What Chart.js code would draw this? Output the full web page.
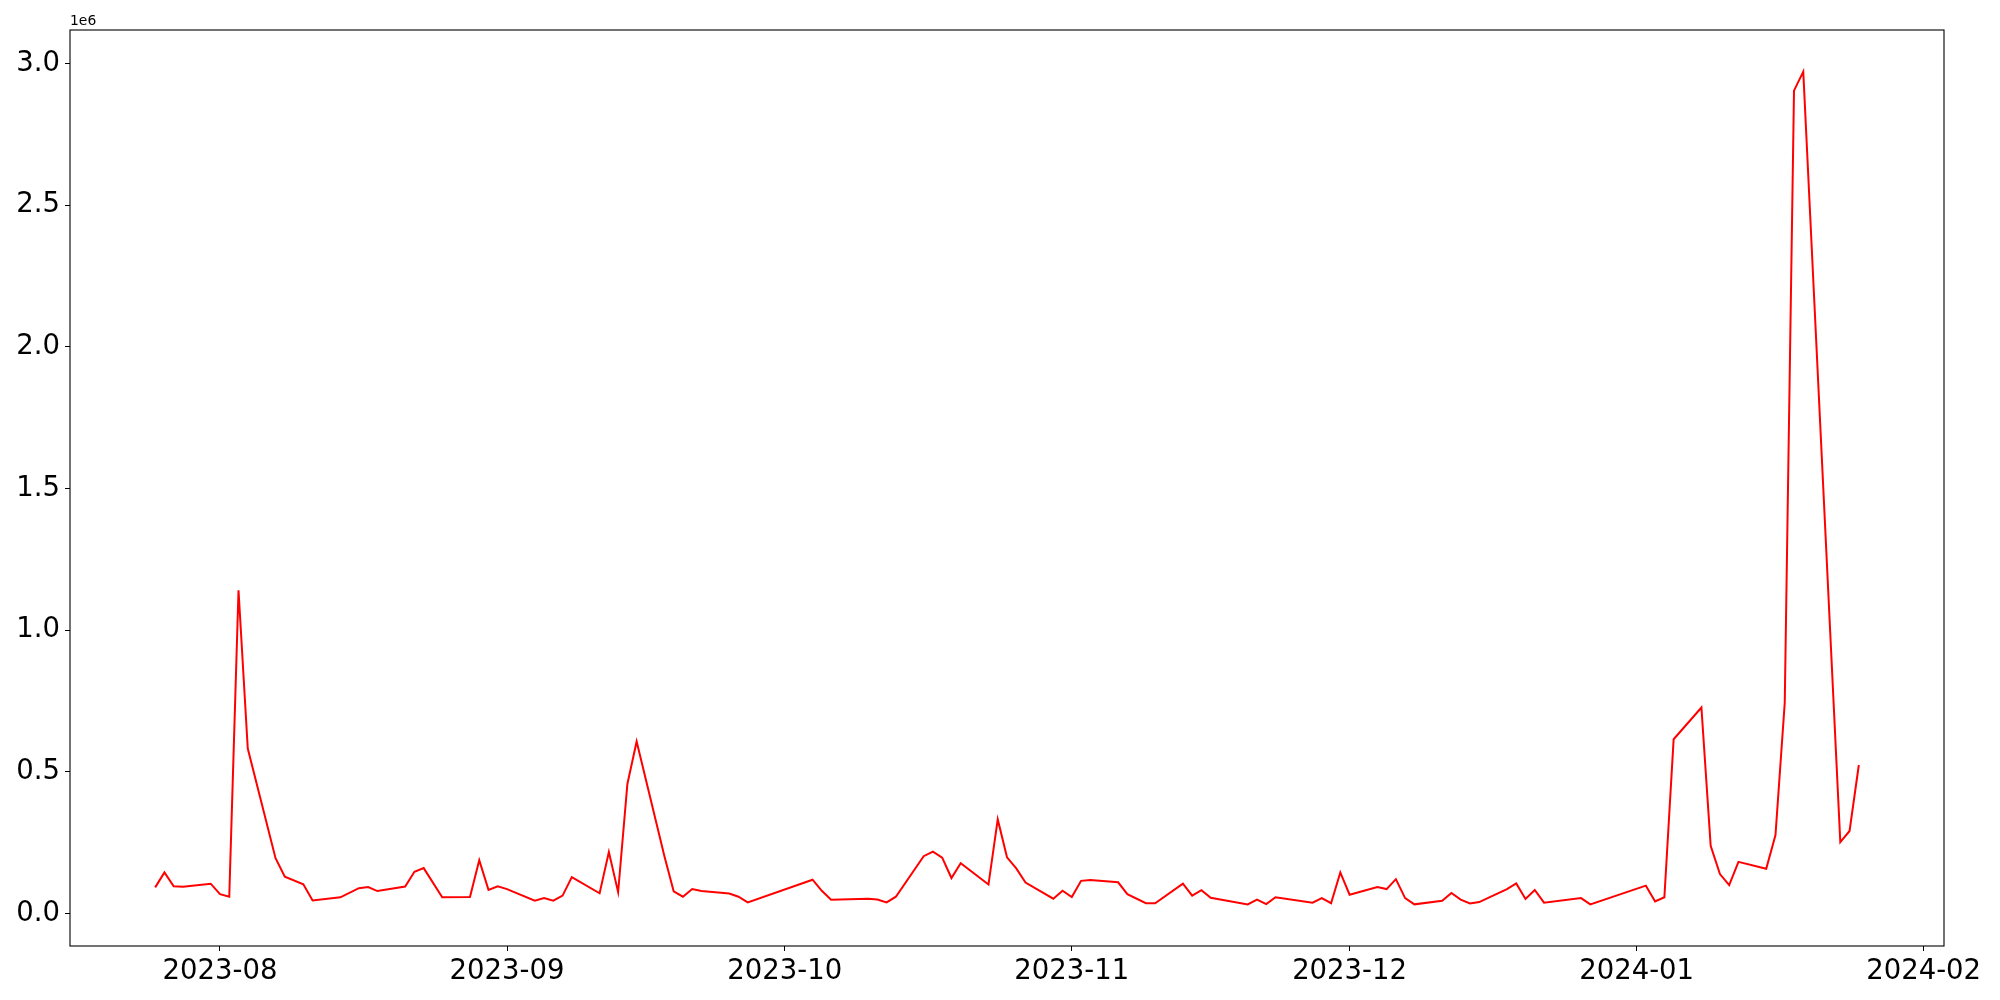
<!DOCTYPE html>
<html>
<head>
<meta charset="utf-8">
<script src="https://cdn.jsdelivr.net/npm/chart.js@4.4.1/dist/chart.umd.min.js"></script>
<style>
  html, body { margin: 0; padding: 0; background: #fff; }
  #wrap { width: 2000px; height: 1000px; }
</style>
</head>
<body>
<div id="wrap"><canvas id="myChart" width="2000" height="1000"></canvas></div>
<script>
'use strict';

// trading dates and values (values in units, axis shows 1e6)
var dates = [
  '2023-07-25', '2023-07-26', '2023-07-27', '2023-07-28', '2023-07-31',
  '2023-08-01', '2023-08-02', '2023-08-03', '2023-08-04', '2023-08-07',
  '2023-08-08', '2023-08-10', '2023-08-11', '2023-08-14', '2023-08-16',
  '2023-08-17', '2023-08-18', '2023-08-21', '2023-08-22', '2023-08-23',
  '2023-08-25', '2023-08-28', '2023-08-29', '2023-08-30', '2023-08-31',
  '2023-09-01', '2023-09-04', '2023-09-05', '2023-09-06', '2023-09-07',
  '2023-09-08', '2023-09-11', '2023-09-12', '2023-09-13', '2023-09-14',
  '2023-09-15', '2023-09-18', '2023-09-19', '2023-09-20', '2023-09-21',
  '2023-09-22', '2023-09-25', '2023-09-26', '2023-09-27', '2023-10-04',
  '2023-10-05', '2023-10-06', '2023-10-10', '2023-10-11', '2023-10-12',
  '2023-10-13', '2023-10-16', '2023-10-17', '2023-10-18', '2023-10-19',
  '2023-10-20', '2023-10-23', '2023-10-24', '2023-10-25', '2023-10-26',
  '2023-10-27', '2023-10-30', '2023-10-31', '2023-11-01', '2023-11-02',
  '2023-11-03', '2023-11-06', '2023-11-07', '2023-11-09', '2023-11-10',
  '2023-11-13', '2023-11-14', '2023-11-15', '2023-11-16', '2023-11-20',
  '2023-11-21', '2023-11-22', '2023-11-23', '2023-11-27', '2023-11-28',
  '2023-11-29', '2023-11-30', '2023-12-01', '2023-12-04', '2023-12-05',
  '2023-12-06', '2023-12-07', '2023-12-08', '2023-12-11', '2023-12-12',
  '2023-12-13', '2023-12-14', '2023-12-15', '2023-12-18', '2023-12-19',
  '2023-12-20', '2023-12-21', '2023-12-22', '2023-12-26', '2023-12-27',
  '2024-01-02', '2024-01-03', '2024-01-04', '2024-01-05', '2024-01-08',
  '2024-01-09', '2024-01-10', '2024-01-11', '2024-01-12', '2024-01-15',
  '2024-01-16', '2024-01-17', '2024-01-18', '2024-01-19', '2024-01-23',
  '2024-01-24', '2024-01-25'
];

var volumes = [
  92000, 145000, 96000, 94000, 105000,
  68000, 59000, 1141000, 582000, 195000,
  130000, 103000, 46000, 57000, 89000,
  93000, 79000, 95000, 147000, 160000,
  57000, 58000, 188000, 83000, 96000,
  86000, 45000, 54000, 45000, 63000,
  128000, 71000, 217000, 75000, 457000,
  607000, 202000, 78000, 59000, 86000,
  79000, 70000, 59000, 39000, 119000,
  80000, 48000, 52000, 49000, 39000,
  59000, 202000, 218000, 197000, 125000,
  177000, 102000, 332000, 198000, 159000,
  109000, 52000, 80000, 58000, 115000,
  118000, 110000, 68000, 36000, 36000,
  105000, 63000, 82000, 55000, 32000,
  49000, 33000, 57000, 38000, 54000,
  36000, 145000, 66000, 93000, 86000,
  121000, 54000, 32000, 45000, 72000,
  49000, 35000, 40000, 86000, 106000,
  51000, 83000, 38000, 54000, 32000,
  98000, 42000, 57000, 615000, 727000,
  239000, 139000, 100000, 182000, 158000,
  277000, 744000, 2905000, 2972000, 252000,
  291000, 524000
];

var xTickLabels = ['2023-08', '2023-09', '2023-10', '2023-11', '2023-12', '2024-01', '2024-02'];
var yTickValues = [0, 500000, 1000000, 1500000, 2000000, 2500000, 3000000];

function toMs(s) {
  return Date.parse(s.length === 7 ? s + '-01' : s);
}

var points = dates.map(function (d, i) {
  return { x: toMs(d), y: volumes[i] };
});

var xs = points.map(function (p) { return p.x; });
var xMin = Math.min.apply(null, xs), xMax = Math.max.apply(null, xs);
var yMin = Math.min.apply(null, volumes), yMax = Math.max.apply(null, volumes);
var xPad = (xMax - xMin) * 0.05, yPad = (yMax - yMin) * 0.05;

var tickFont = { family: 'DejaVu Sans', size: 27.5 };

// box round the plot plus the "1e6" offset text, like matplotlib
var framePlugin = {
  id: 'frame',
  afterDraw: function (chart) {
    var a = chart.chartArea, c = chart.ctx;
    c.save();
    c.strokeStyle = '#000';
    c.lineWidth = 1.1;
    c.strokeRect(a.left, a.top, a.right - a.left, a.bottom - a.top);
    c.fillStyle = '#000';
    c.font = '13.9px "DejaVu Sans"';
    c.textAlign = 'left';
    c.textBaseline = 'alphabetic';
    c.fillText('1e6', a.left, a.top - 5);
    c.restore();
  }
};

var ctx = document.getElementById('myChart').getContext('2d');

var myChart = new Chart(ctx, {
  type: 'line',
  data: {
    datasets: [{
      data: points,
      borderColor: '#ff0000',
      borderWidth: 2,
      pointRadius: 0,
      tension: 0,
      fill: false
    }]
  },
  options: {
    responsive: false,
    animation: false,
    devicePixelRatio: 1,
    layout: { padding: { left: 0, top: 30, right: 56, bottom: 0 } },
    plugins: {
      legend: { display: false },
      tooltip: { enabled: false }
    },
    scales: {
      x: {
        type: 'linear',
        min: xMin - xPad,
        max: xMax + xPad,
        afterBuildTicks: function (scale) {
          scale.ticks = xTickLabels.map(function (l) { return { value: toMs(l) }; });
        },
        afterFit: function (scale) { scale.height = 54; },
        ticks: {
          autoSkip: false,
          maxRotation: 0,
          color: '#000',
          font: tickFont,
          padding: 4,
          callback: function (v) {
            var d = new Date(v);
            var m = d.getUTCMonth() + 1;
            return d.getUTCFullYear() + '-' + (m < 10 ? '0' : '') + m;
          }
        },
        grid: { drawOnChartArea: false, drawTicks: true, tickLength: 5, color: '#000', lineWidth: 1 },
        border: { display: false }
      },
      y: {
        min: yMin - yPad,
        max: yMax + yPad,
        afterBuildTicks: function (scale) {
          scale.ticks = yTickValues.map(function (v) { return { value: v }; });
        },
        afterFit: function (scale) { scale.width = 70; },
        ticks: {
          color: '#000',
          font: tickFont,
          padding: 5,
          callback: function (v) { return (v / 1e6).toFixed(1); }
        },
        grid: { drawOnChartArea: false, drawTicks: true, tickLength: 5, color: '#000', lineWidth: 1 },
        border: { display: false }
      }
    }
  },
  plugins: [framePlugin]
});
</script>
</body>
</html>
